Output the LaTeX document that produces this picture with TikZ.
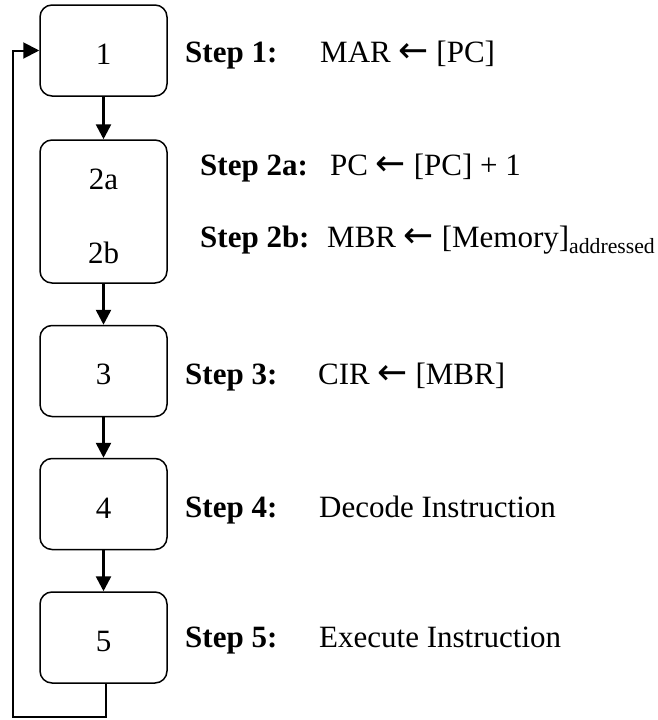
\documentclass[tikz,border=0pt]{standalone}
\usepackage{fontspec}
\setmainfont{Liberation Serif}
\newfontfamily\arrowfont{DejaVu Sans}
\usetikzlibrary{arrows.meta}
\newcommand{\larr}{{\arrowfont\fontsize{36}{36}\selectfont ←}}
\begin{document}
\begin{tikzpicture}[x=1pt,y=-1pt,
  stepbox/.style={draw, line width=1.5pt, rounded corners=12pt, minimum width=127pt,
    minimum height=91pt, inner sep=0pt, font=\fontsize{31}{31}\selectfont},
  flow/.style={line width=2.6pt, -{Triangle[length=15pt,width=15pt]}},
  loopline/.style={line width=2pt, -{Triangle[length=16pt,width=16pt]}},
  num/.style={anchor=base, inner sep=0pt, font=\fontsize{31}{31}\selectfont},
  lbl/.style={anchor=base west, inner sep=0pt, font=\fontsize{31}{31}\selectfont}]
\useasboundingbox (0,0) rectangle (657,720);

% boxes
\node[stepbox] (b1) at (103.5,50.5) {};
\node[stepbox, minimum height=143pt] (b2) at (103.5,211.5) {};
\node[stepbox] (b3) at (103.5,371) {};
\node[stepbox] (b4) at (103.5,504) {};
\node[stepbox] (b5) at (103.5,637.5) {};

% box numbers
\node[num] (n1) at (103.5,64) {1};
\node[num] (n2a) at (103.5,189) {2a};
\node[num] (n2b) at (103.5,263) {2b};
\node[num] (n3) at (103.5,384) {3};
\node[num] (n4) at (103.5,518) {4};
\node[num] (n5) at (103.5,651) {5};

% connectors
\draw[flow] (b1) -- (b2);
\draw[flow] (b2) -- (b3);
\draw[flow] (b3) -- (b4);
\draw[flow] (b4) -- (b5);
\coordinate (c1) at (12.7,717);
\coordinate (c2) at (12.7,50.5);
\draw[loopline] ([xshift=2.2pt]b5.south) |- (c1) -- (c2) -- (b1.west);

% step texts
\node[lbl] (s1) at (185,62) {\textbf{Step 1:}};
\node[lbl] (t1) at (320,62) {MAR \larr{} [PC]};
\node[lbl] (s2a) at (200,175) {\textbf{Step 2a:}};
\node[lbl] (t2a) at (330,175) {PC \larr{} [PC] + 1};
\node[lbl] (s2b) at (200,247) {\textbf{Step 2b:}};
\node[lbl] (t2b) at (327,247) {MBR \larr{} [Memory]\textsubscript{addressed}};
\node[lbl] (s3) at (185,384) {\textbf{Step 3:}};
\node[lbl] (t3) at (318,384) {CIR \larr{} [MBR]};
\node[lbl] (s4) at (185,517) {\textbf{Step 4:}};
\node[lbl] (t4) at (319,517) {Decode Instruction};
\node[lbl] (s5) at (185,647) {\textbf{Step 5:}};
\node[lbl] (t5) at (319,647) {Execute Instruction};
\end{tikzpicture}
\end{document}
